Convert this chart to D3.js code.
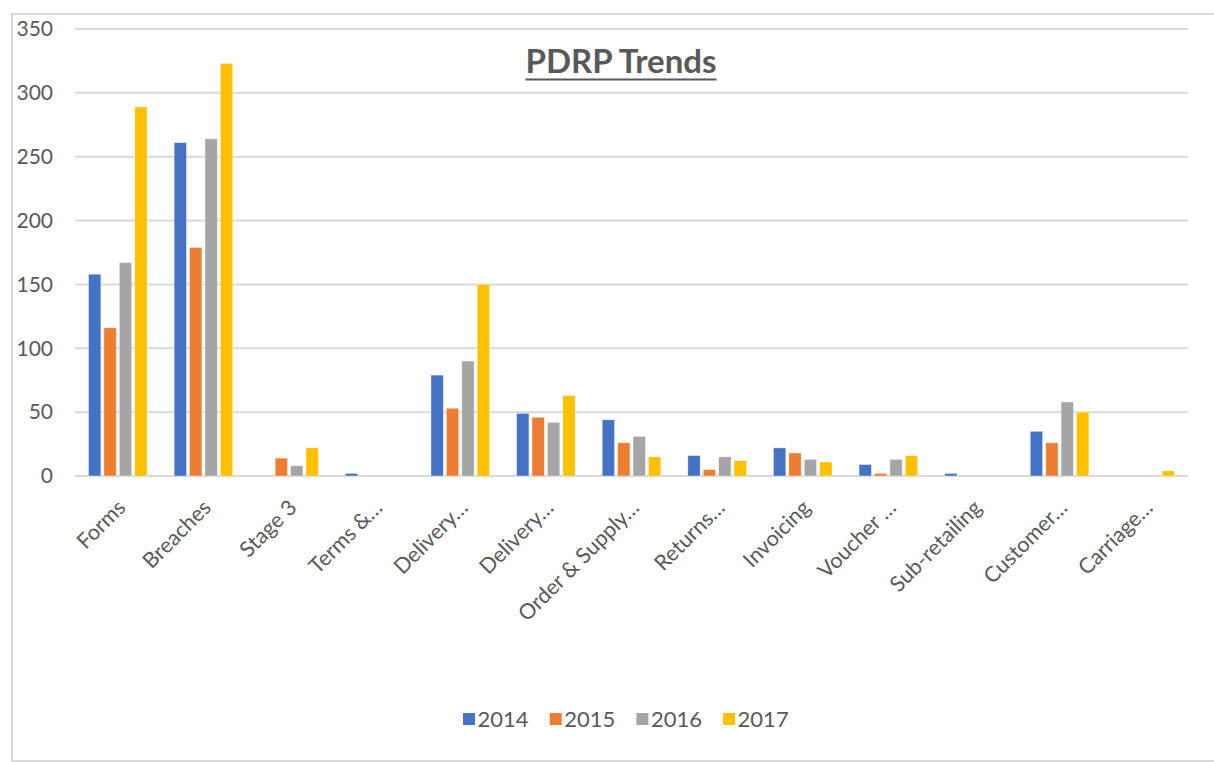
<!DOCTYPE html>
<html lang="en">
<head>
<meta charset="UTF-8">
<title>PDRP Trends</title>
<style>
html,body{margin:0; width:100vw; height:100vh; overflow:hidden; background:#fff; font-family:Lato, "Noto Sans", Arial, sans-serif;}
svg{width:100%; height:100%; display:block;}
</style>
</head>
<body>
<svg></svg>
<script src="https://d3js.org/d3.v7.min.js"></script>
<script>
// data
const categories = ["Forms","Breaches","Stage 3","Terms &\u2026","Delivery\u2026","Delivery\u2026","Order & Supply\u2026","Returns\u2026","Invoicing","Voucher \u2026","Sub-retailing","Customer\u2026","Carriage\u2026"];
const years = ["2014","2015","2016","2017"];
const v2014 = [158,261,0,2,79,49,44,16,22,9,2,35,0];
const v2015 = [116,179,14,0,53,46,26,5,18,2,0,26,0];
const v2016 = [167,264,8,0,90,42,31,15,13,13,0,58,0];
const v2017 = [289,323,22,0,150,63,15,12,11,16,0,50,4];
const yTicks = [0,50,100,150,200,250,300,350];
const colors = ["#4472c4","#ed7d31","#a5a5a5","#ffc000"];

const series = [v2014,v2015,v2016,v2017];
const rows = categories.map((c,i)=>({key:i, label:c, vals:series.map(s=>s[i])}));

const svg = d3.select("svg");
const textCol = "#595959";

// chart frame
svg.append("rect").attr("x",12).attr("y",14).attr("width",1220).attr("height",747)
  .attr("fill","none").attr("stroke","#d9d9d9").attr("stroke-width",2);

const x = d3.scaleBand().domain(d3.range(categories.length)).range([75,1188])
  .paddingInner(0.316).paddingOuter(0.158);
const xi = d3.scaleBand().domain(years).range([0,x.bandwidth()]).paddingInner(0.2);
const y = d3.scaleLinear().domain([0,350]).range([476,29]);

// gridlines
svg.append("g").selectAll("line").data(yTicks).join("line")
  .attr("x1",75).attr("x2",1188)
  .attr("y1",d=>y(d)).attr("y2",d=>y(d))
  .attr("stroke","#d9d9d9").attr("stroke-width",2);

// y labels
svg.append("g").selectAll("text").data(yTicks).join("text")
  .attr("x",53).attr("y",d=>y(d)).attr("dy","0.35em")
  .attr("text-anchor","end").attr("fill",textCol).style("font-size","21px")
  .text(d=>d);

// bars
const groups = svg.append("g").selectAll("g").data(rows).join("g")
  .attr("transform",d=>`translate(${x(d.key)},0)`);
groups.selectAll("rect").data(d=>d.vals.map((v,j)=>({year:years[j],v,c:colors[j]}))).join("rect")
  .attr("x",d=>xi(d.year)).attr("width",xi.bandwidth())
  .attr("y",d=>y(d.v)).attr("height",d=>y(0)-y(d.v))
  .attr("fill",d=>d.c).attr("stroke","#fff").attr("stroke-opacity",0.5).attr("stroke-width",0.75);

// x labels
svg.append("g").selectAll("text").data(rows).join("text")
  .attr("transform",d=>`translate(${x(d.key)+x.bandwidth()/2+9},${509}) rotate(-45)`)
  .attr("text-anchor","end").attr("fill",textCol).style("font-size","21.5px")
  .text(d=>d.label);

// title
const title = svg.append("text").attr("x",621).attr("y",73).attr("text-anchor","middle")
  .attr("fill",textCol).style("font-size","33px").style("font-weight","bold")
  .text("PDRP Trends");
const tb = title.node().getBBox();
svg.append("line").attr("x1",tb.x).attr("x2",tb.x+tb.width).attr("y1",79.5).attr("y2",79.5)
  .attr("stroke",textCol).attr("stroke-width",2);

// legend
const legend = svg.append("g").attr("transform","translate(463,713)");
const item = legend.selectAll("g").data(years).join("g")
  .attr("transform",(d,i)=>`translate(${i*86.7},0)`);
item.append("rect").attr("width",12).attr("height",12).attr("fill",(d,i)=>colors[i]);
item.append("text").attr("x",14.5).attr("y",6).attr("dy","0.35em")
  .attr("fill",textCol).style("font-size","22px").text(d=>d);
</script>
</body>
</html>
